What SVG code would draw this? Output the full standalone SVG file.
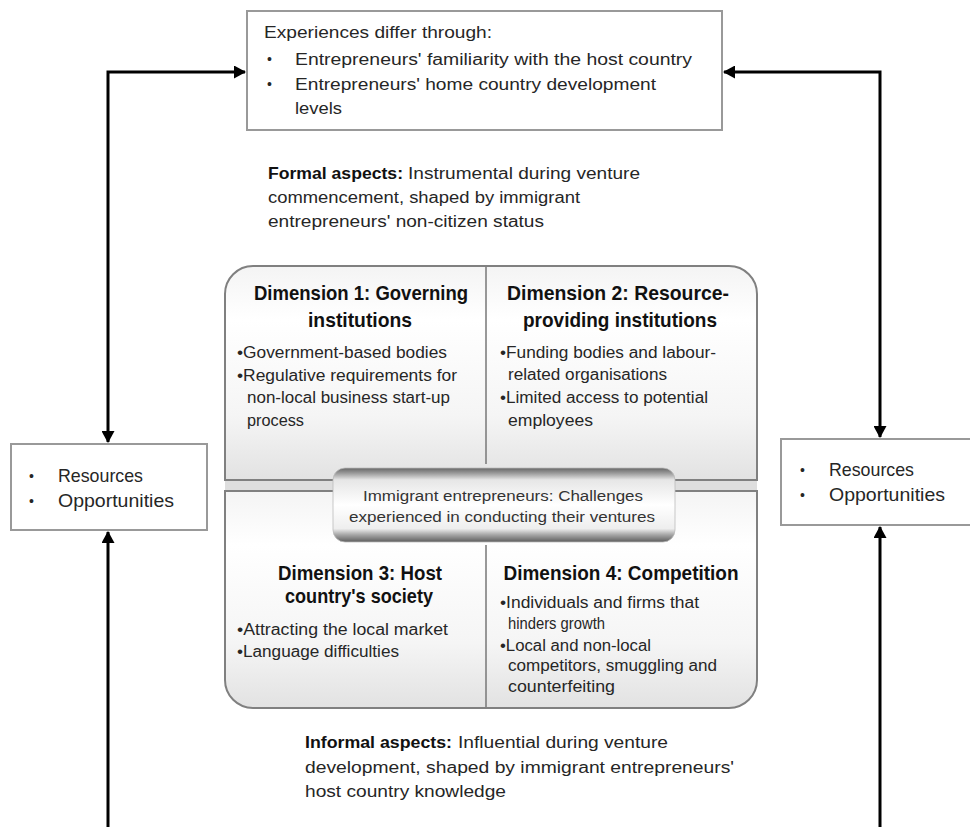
<svg xmlns="http://www.w3.org/2000/svg" width="970" height="827" viewBox="0 0 970 827">
<defs>
<linearGradient id="quad" x1="0" y1="0" x2="0" y2="1">
<stop offset="0" stop-color="#f4f4f4"/>
<stop offset="0.25" stop-color="#ffffff"/>
<stop offset="0.7" stop-color="#f5f5f5"/>
<stop offset="1" stop-color="#e2e2e2"/>
</linearGradient>
<linearGradient id="pill" x1="0" y1="0" x2="0" y2="1">
<stop offset="0" stop-color="#666666"/>
<stop offset="0.07" stop-color="#9a9a9a"/>
<stop offset="0.16" stop-color="#e6e6e6"/>
<stop offset="0.5" stop-color="#ffffff"/>
<stop offset="0.82" stop-color="#eeeeee"/>
<stop offset="0.9" stop-color="#a8a8a8"/>
<stop offset="1" stop-color="#5e5e5e"/>
</linearGradient>
<marker id="arr" viewBox="0 0 12 13" refX="11" refY="6.5" markerWidth="12" markerHeight="13" markerUnits="userSpaceOnUse" orient="auto-start-reverse">
<path d="M0,0 L12,6.5 L0,13 Z" fill="#000"/>
</marker>
</defs>
<style>
text{font-family:"Liberation Sans",Arial,sans-serif;fill:#262626;}
.t{font-size:17.3px;}
.b{font-size:15.6px;}
.h{font-size:20.5px;font-weight:bold;fill:#111;text-anchor:middle;}
.p{font-size:15.5px;text-anchor:middle;fill:#333;}
.r{font-size:18.5px;}
.dot{font-size:14px;}
.bold{font-weight:bold;fill:#111;}
.box{fill:#fff;stroke:#999;stroke-width:2;}
.quad{fill:url(#quad);stroke:#808080;stroke-width:2;}
.div{stroke:#777;stroke-width:1.5;}
.con{fill:none;stroke:#000;stroke-width:3;}
</style>

<rect x="0" y="0" width="970" height="827" fill="#fff"/>

<g id="connectors">
<path class="con" d="M108,442 L108,72 L245,72" marker-start="url(#arr)" marker-end="url(#arr)"/>
<path class="con" d="M880,437 L880,72 L724,72" marker-start="url(#arr)" marker-end="url(#arr)"/>
<path class="con" d="M108,827 L108,532" marker-end="url(#arr)"/>
<path class="con" d="M880,827 L880,527" marker-end="url(#arr)"/>
</g>

<g id="experiences">
<rect class="box" x="247" y="11" width="475" height="119"/>
<text class="t" x="264" y="38" textLength="228" lengthAdjust="spacingAndGlyphs">Experiences differ through:</text>
<text class="t dot" x="267" y="64">•</text>
<text class="t" x="295" y="65" textLength="397" lengthAdjust="spacingAndGlyphs">Entrepreneurs' familiarity with the host country</text>
<text class="t dot" x="267" y="89">•</text>
<text class="t" x="295" y="90" textLength="361" lengthAdjust="spacingAndGlyphs">Entrepreneurs' home country development</text>
<text class="t" x="295" y="114" textLength="47" lengthAdjust="spacingAndGlyphs">levels</text>
</g>

<g id="formal">
<text class="t bold" x="268" y="179" textLength="135" lengthAdjust="spacingAndGlyphs">Formal aspects:</text>
<text class="t" x="408" y="179" textLength="232" lengthAdjust="spacingAndGlyphs">Instrumental during venture</text>
<text class="t" x="268" y="203" textLength="312" lengthAdjust="spacingAndGlyphs">commencement, shaped by immigrant</text>
<text class="t" x="268" y="227" textLength="276" lengthAdjust="spacingAndGlyphs">entrepreneurs' non-citizen status</text>
</g>

<g id="dimensions">
<rect x="225" y="480" width="532" height="11" fill="#dedede"/>
<path class="quad" d="M225,480 L225,294 A28,28 0 0 1 253,266 L729,266 A28,28 0 0 1 757,294 L757,480 Z"/>
<path class="quad" d="M225,491 L757,491 L757,680 A28,28 0 0 1 729,708 L253,708 A28,28 0 0 1 225,680 Z"/>
<line class="div" x1="486" y1="267" x2="486" y2="464"/>
<line class="div" x1="486" y1="545" x2="486" y2="707"/>
</g>

<g id="dimension1">
<text class="h" x="361" y="300" textLength="214" lengthAdjust="spacingAndGlyphs">Dimension 1: Governing</text>
<text class="h" x="360" y="327" textLength="104" lengthAdjust="spacingAndGlyphs">institutions</text>
<text class="b" x="237" y="358" textLength="210" lengthAdjust="spacingAndGlyphs">•Government-based bodies</text>
<text class="b" x="237" y="381" textLength="220" lengthAdjust="spacingAndGlyphs">•Regulative requirements for</text>
<text class="b" x="247" y="403" textLength="203" lengthAdjust="spacingAndGlyphs">non-local business start-up</text>
<text class="b" x="247" y="426" textLength="57" lengthAdjust="spacingAndGlyphs">process</text>
</g>

<g id="dimension2">
<text class="h" x="618" y="300" textLength="222" lengthAdjust="spacingAndGlyphs">Dimension 2: Resource-</text>
<text class="h" x="620" y="327" textLength="194" lengthAdjust="spacingAndGlyphs">providing institutions</text>
<text class="b" x="500" y="358" textLength="216" lengthAdjust="spacingAndGlyphs">•Funding bodies and labour-</text>
<text class="b" x="508" y="380" textLength="159" lengthAdjust="spacingAndGlyphs">related organisations</text>
<text class="b" x="500" y="403" textLength="208" lengthAdjust="spacingAndGlyphs">•Limited access to potential</text>
<text class="b" x="508" y="426" textLength="85" lengthAdjust="spacingAndGlyphs">employees</text>
</g>

<g id="challenges">
<rect x="333" y="468" width="342" height="74" rx="12" ry="12" fill="url(#pill)" stroke="#bbb" stroke-width="0.8"/>
<text class="p" x="503" y="501" textLength="280" lengthAdjust="spacingAndGlyphs">Immigrant entrepreneurs: Challenges</text>
<text class="p" x="502" y="522" textLength="306" lengthAdjust="spacingAndGlyphs">experienced in conducting their ventures</text>
</g>

<g id="dimension3">
<text class="h" x="360" y="580" textLength="164" lengthAdjust="spacingAndGlyphs">Dimension 3: Host</text>
<text class="h" x="359" y="603" textLength="148" lengthAdjust="spacingAndGlyphs">country's society</text>
<text class="b" x="237" y="635" textLength="211" lengthAdjust="spacingAndGlyphs">•Attracting the local market</text>
<text class="b" x="237" y="657" textLength="162" lengthAdjust="spacingAndGlyphs">•Language difficulties</text>
</g>

<g id="dimension4">
<text class="h" x="621" y="580" textLength="235" lengthAdjust="spacingAndGlyphs">Dimension 4: Competition</text>
<text class="b" x="500" y="608" textLength="199" lengthAdjust="spacingAndGlyphs">•Individuals and firms that</text>
<text class="b" x="508" y="629" textLength="97" lengthAdjust="spacingAndGlyphs">hinders growth</text>
<text class="b" x="500" y="651" textLength="151" lengthAdjust="spacingAndGlyphs">•Local and non-local</text>
<text class="b" x="508" y="671" textLength="209" lengthAdjust="spacingAndGlyphs">competitors, smuggling and</text>
<text class="b" x="508" y="692" textLength="107" lengthAdjust="spacingAndGlyphs">counterfeiting</text>
</g>

<g id="informal">
<text class="t bold" x="305" y="748" textLength="147" lengthAdjust="spacingAndGlyphs">Informal aspects:</text>
<text class="t" x="458" y="748" textLength="210" lengthAdjust="spacingAndGlyphs">Influential during venture</text>
<text class="t" x="305" y="773" textLength="429" lengthAdjust="spacingAndGlyphs">development, shaped by immigrant entrepreneurs'</text>
<text class="t" x="305" y="797" textLength="201" lengthAdjust="spacingAndGlyphs">host country knowledge</text>
</g>

<g id="resources-left">
<rect class="box" x="11" y="444" width="196" height="86"/>
<text class="r dot" x="29" y="481">•</text>
<text class="r" x="58" y="482" textLength="85" lengthAdjust="spacingAndGlyphs">Resources</text>
<text class="r dot" x="29" y="506">•</text>
<text class="r" x="58" y="507" textLength="116" lengthAdjust="spacingAndGlyphs">Opportunities</text>
</g>

<g id="resources-right">
<rect class="box" x="781" y="439" width="190" height="86"/>
<text class="r dot" x="800" y="475">•</text>
<text class="r" x="829" y="476" textLength="85" lengthAdjust="spacingAndGlyphs">Resources</text>
<text class="r dot" x="800" y="500">•</text>
<text class="r" x="829" y="501" textLength="116" lengthAdjust="spacingAndGlyphs">Opportunities</text>
</g>
</svg>
